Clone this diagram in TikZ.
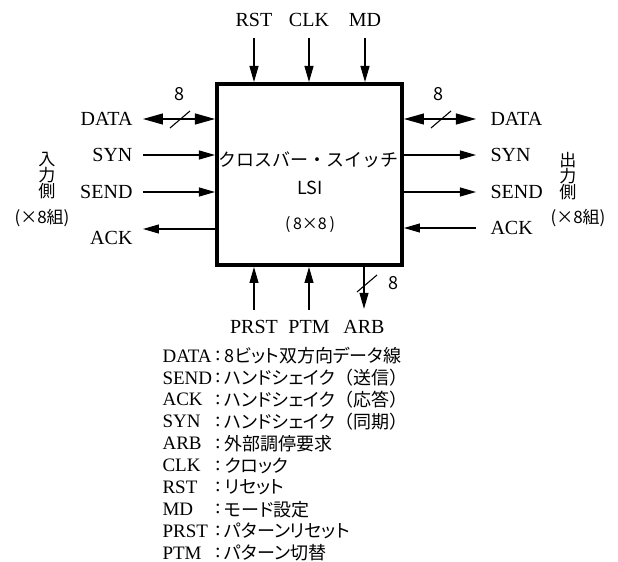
\documentclass[tikz,border=0pt]{standalone}
\usepackage{fontspec}
\setmainfont{Liberation Serif}
\newfontfamily\jp[RawFeature=+palt]{Noto Sans CJK JP}
\newfontfamily\jpw{Noto Sans CJK JP}
\usetikzlibrary{arrows.meta, calc, positioning}

\tikzset{
  sig/.style={-{Triangle[length=8pt,width=4.5pt]}},
  bus/.style={{Triangle[length=10pt,width=5.5pt]}-{Triangle[length=10pt,width=5.5pt]}},
  pin/.style={inner sep=0pt},
}

\begin{document}
\begin{tikzpicture}[x=0.5pt, y=-0.5pt, line width=0.55pt, font=\fontsize{10}{11}\selectfont]
\useasboundingbox (0,0) rectangle (618,562);

% the LSI box
\node[draw, line width=2pt, minimum width=92.5pt, minimum height=90.5pt, inner sep=0pt] (lsi) at (309.5,174.5) {};
\node[pin, font=\jpw\fontsize{9}{9}\selectfont] (title) at (309,160) {クロスバー・スイッチ};
\node[pin, font=\jpw\fontsize{9}{9}\selectfont] (lsiname) at (310,188) {LSI};
\node[pin, font=\jpw\fontsize{8}{8}\selectfont] (size) at (310,225) {(\,8×8\,)};

% top signals
\foreach \n/\x in {RST/254, CLK/309, MD/365} {
  \node[pin] (t\n) at (\x,20) {\n};
  \draw[sig] ([yshift=-5.5pt]t\n.south) -- (t\n |- lsi.north);
}

% bottom signals
\foreach \n/\x in {PRST/254, PTM/309} {
  \node[pin] (b\n) at (\x,327) {\n};
  \draw[sig] ([yshift=5pt]b\n.north) -- (b\n |- lsi.south);
}
\node[pin] (bARB) at (364,327) {ARB};
\draw[sig] (bARB |- lsi.south) -- ([yshift=5.5pt]bARB.north);
\draw (357,292) -- (377,275);
\node[pin, font=\jpw\fontsize{9}{9}\selectfont] (nARB) at (393,283) {8};

% input side
\node[pin, anchor=east] (iDATA) at (133,119) {DATA};
\node[pin, anchor=east] (iSYN) at (133,155) {SYN};
\node[pin, anchor=east] (iSEND) at (133,192) {SEND};
\node[pin, anchor=east] (iACK) at (133,238) {ACK};
\draw[bus] ([xshift=5pt]iDATA.east) -- (iDATA -| lsi.west);
\draw (170,128) -- (190,111);
\node[pin, font=\jpw\fontsize{9}{9}\selectfont] (niDATA) at (179,94) {8};
\draw[sig] ([xshift=5pt]iSYN.east) -- (iSYN -| lsi.west);
\draw[sig] ([xshift=5pt]iSEND.east) -- (iSEND -| lsi.west);
\coordinate (iackend) at (143,229);
\draw[sig] (iackend -| lsi.west) -- (iackend);
\node[pin, align=center, font=\jpw\fontsize{8.5}{8}\selectfont] (inside) at (47,176) {入\\力\\側};
\node[pin, font=\jpw\fontsize{8.5}{8}\selectfont] (ingroups) at (42,218) {(×8組)};

% output side
\node[pin, anchor=west] (oDATA) at (490,119) {DATA};
\node[pin, anchor=west] (oSYN) at (490,155) {SYN};
\node[pin, anchor=west] (oSEND) at (490,192) {SEND};
\node[pin, anchor=west] (oACK) at (490,228) {ACK};
\draw[bus] (oDATA -| lsi.east) -- ([xshift=-7pt]oDATA.west);
\draw (431,128) -- (451,111);
\node[pin, font=\jpw\fontsize{9}{9}\selectfont] (noDATA) at (438,94) {8};
\draw[sig] (oSYN -| lsi.east) -- ([xshift=-7pt]oSYN.west);
\draw[sig] (oSEND -| lsi.east) -- ([xshift=-7pt]oSEND.west);
\draw[sig] ([xshift=-7pt]oACK.west) -- (oACK -| lsi.east);
\node[pin, align=center, font=\jpw\fontsize{8.5}{8}\selectfont] (outside) at (568,176) {出\\力\\側};
\node[pin, font=\jpw\fontsize{8.5}{8}\selectfont] (outgroups) at (578,218) {(×8組)};

% legend
\foreach \n/\t [count=\i] in {DATA/8ビット双方向データ線, SEND/ハンドシェイク{\jpw（送信）}, ACK/ハンドシェイク{\jpw（応答）}, SYN/ハンドシェイク{\jpw（同期）}, ARB/外部調停要求, CLK/クロック, RST/リセット, MD/モード設定, PRST/パターンリセット, PTM/パターン切替} {
  \node[pin, anchor=west, font=\fontsize{9.5}{11}\selectfont] (key\i) at (162,{356+21.9*(\i-1)}) {\n};
  \node[pin] (colon\i) at (218,{356+21.9*(\i-1)}) {:};
  \node[pin, anchor=west, font=\jp\fontsize{9}{9}\selectfont] (desc\i) at (224,{356+21.9*(\i-1)}) {\t};
}
\end{tikzpicture}
\end{document}
